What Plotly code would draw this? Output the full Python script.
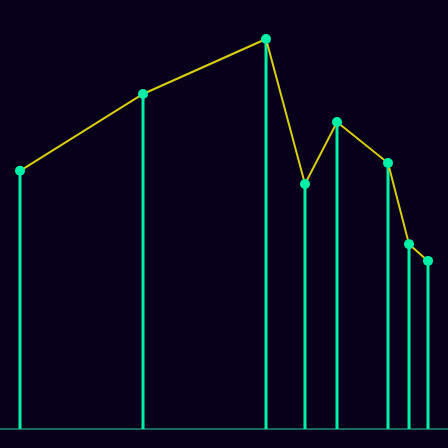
import plotly.graph_objects as go

# positions along the axis and values
x_vals = [0, 6.03, 12.06, 13.97, 15.54, 18.04, 19.07, 20]
y_vals = [66.2, 85.9, 100, 62.8, 78.7, 68.2, 47.4, 43.1]

bg = "#08001a"
stem = "#00f0a8"
link = "#d8cc10"

fig = go.Figure()

# vertical stems from zero up to each point
for xv, yv in zip(x_vals, y_vals):
    fig.add_trace(go.Scatter(x=[xv, xv], y=[0, yv], mode="lines",
                             line=dict(color=stem, width=3),
                             hoverinfo="skip", showlegend=False))

# yellow line joining the tops
fig.add_trace(go.Scatter(x=x_vals, y=y_vals, mode="lines",
                         line=dict(color=link, width=2), showlegend=False))

fig.add_trace(go.Scatter(x=x_vals, y=y_vals, mode="markers",
                         marker=dict(color=stem, size=10), showlegend=False))

# baseline
fig.add_shape(type="line", xref="paper", x0=0, x1=1, yref="y", y0=0, y1=0,
              line=dict(color="#1f8a78", width=1.5), layer="below")

fig.update_layout(
    width=448, height=448,
    margin=dict(l=0, r=0, t=0, b=0),
    paper_bgcolor=bg, plot_bgcolor=bg,
    xaxis=dict(range=[-0.98, 20.98], showgrid=False, zeroline=False,
               showticklabels=False),
    yaxis=dict(range=[-4.87, 110], showgrid=False, zeroline=False,
               showticklabels=False),
)

fig.write_html("out.html", config={"displayModeBar": False},
               post_script="document.body.style.margin='0';"
                           "document.body.style.background='#08001a';")
